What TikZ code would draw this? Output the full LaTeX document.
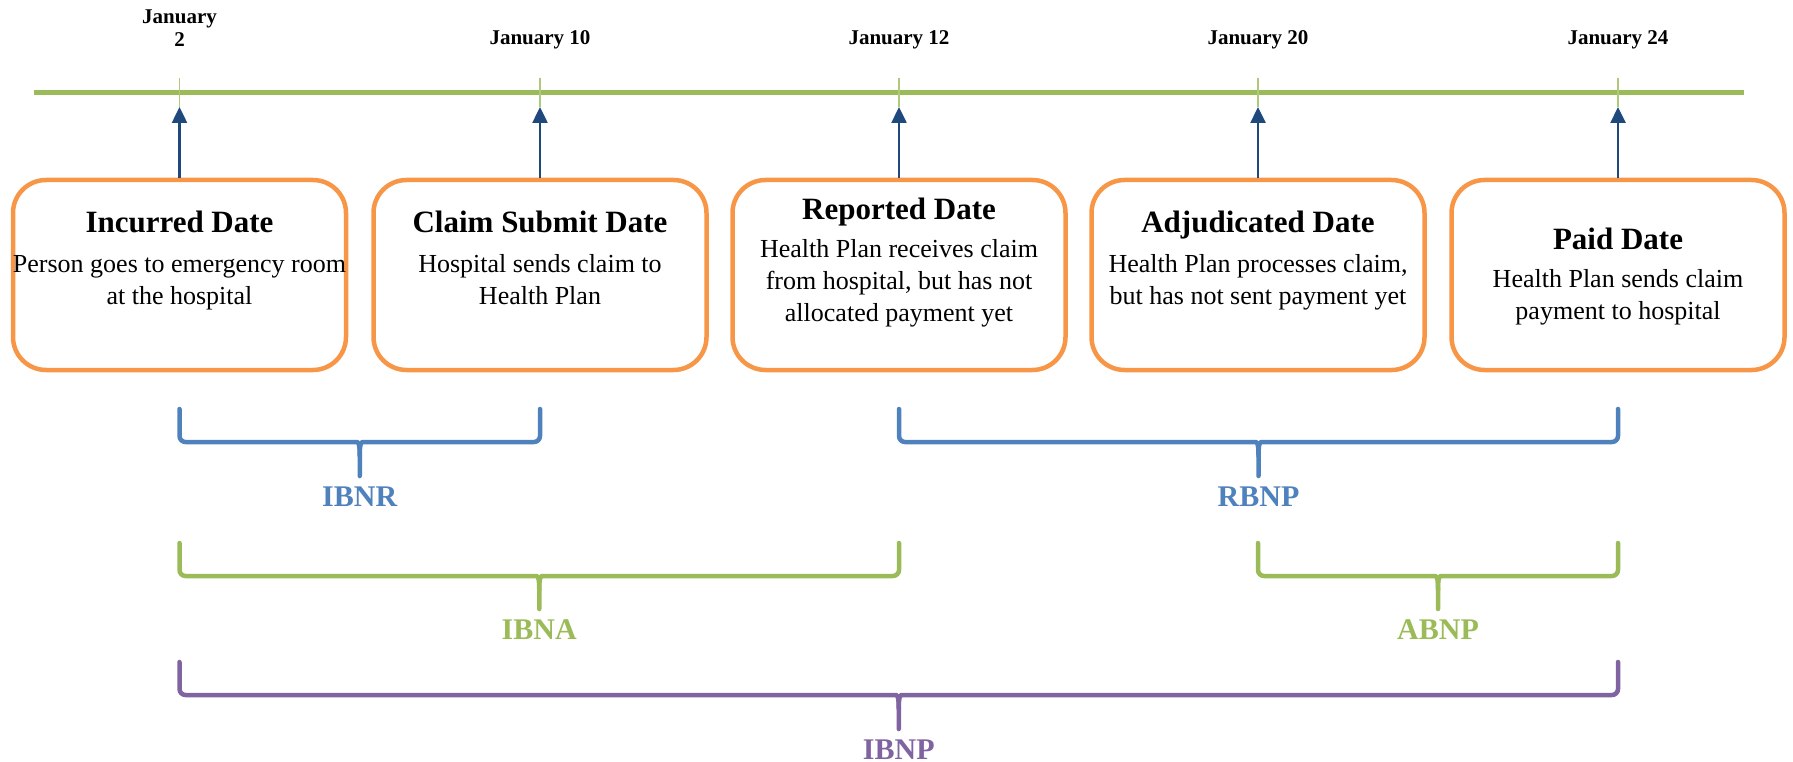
\documentclass[tikz,border=0pt]{standalone}
\usepackage{fontspec}
\setmainfont{Liberation Serif}
\usetikzlibrary{arrows.meta,positioning}
\definecolor{tlgreen}{HTML}{9BBB59}
\definecolor{boxorange}{HTML}{F79646}
\definecolor{ibblue}{HTML}{4F81BD}
\definecolor{arrowblue}{HTML}{1F497D}
\definecolor{ibpurple}{HTML}{8064A2}
\tikzstyle{datebox}=[rectangle,
                     rounded corners=33pt,
                     line width=4.5pt,
                     draw=boxorange,
                     minimum width=333pt,
                     minimum height=190pt]
\tikzstyle{boxtitle}=[font=\fontsize{31}{36}\selectfont\bfseries,
                      inner sep=0pt, anchor=base]
\tikzstyle{boxtext}=[font=\fontsize{26}{32}\selectfont,
                     align=center, inner sep=0pt, anchor=base]
\tikzstyle{datelabel}=[font=\fontsize{21}{23}\selectfont\bfseries,
                       align=center, inner sep=0pt]
\tikzstyle{uparrow}=[draw=arrowblue, line width=2.5pt,
                     -{Triangle[width=15pt,length=16pt]}]
\tikzstyle{tick}=[draw=tlgreen!80, line width=1.5pt]
\tikzstyle{timeline}=[draw=tlgreen, line width=5pt]
\tikzstyle{bracelabel}=[font=\fontsize{30}{36}\selectfont\bfseries,
                        inner sep=0pt, anchor=base]
% brace: colour, left x, right x, top y, bar y, tip y, label name, label
\newcommand{\spanbrace}[8]{%
  \pgfmathsetmacro{\bmid}{(#2+#3)/2}
  \draw[draw=#1, line width=4.5pt, line cap=round, line join=round]
    (#2,#4) [rounded corners=6pt] -- (#2,#5) -- (\bmid-9,#5) [sharp corners]
    .. controls (\bmid-1,#5) and (\bmid,#5+3) .. (\bmid,#5+14) -- (\bmid,#6);
  \draw[draw=#1, line width=4.5pt, line cap=round, line join=round]
    (#3,#4) [rounded corners=6pt] -- (#3,#5) -- (\bmid+9,#5) [sharp corners]
    .. controls (\bmid+1,#5) and (\bmid,#5+3) .. (\bmid,#5+14);
  \node[bracelabel, text=#1] (#7) at (\bmid,#6+30) {#8};
}

\begin{document}
\begin{tikzpicture}[x=1pt,y=-1pt]
      \useasboundingbox (0,0) rectangle (1793,762);

      % time line with its ticks
      \draw[timeline] (34,92.5) -- (1744,92.5);
      \foreach \n/\x in {1/179.5,2/540,3/899,4/1258,5/1618} {
        \coordinate (tick\n) at (\x,107);
        \draw[tick] (\x,78) -- (tick\n);
      }

      % dates above the line
      \node[datelabel] (d1) at (179.5,28) {January\\2};
      \node[datelabel] (d2) at (540,40) {January 10};
      \node[datelabel] (d3) at (899,40) {January 12};
      \node[datelabel] (d4) at (1258,40) {January 20};
      \node[datelabel] (d5) at (1618,40) {January 24};

      % the five dates of a claim (text base = last line)
      \node[datebox] (inc) at (179.5,275) {};
      \node[boxtitle] (inct) at (179.5,233) {Incurred Date};
      \node[boxtext] (incx) at (179.5,304) {Person goes to emergency room\\at the hospital};

      \node[datebox] (sub) at (540,275) {};
      \node[boxtitle] (subt) at (540,233) {Claim Submit Date};
      \node[boxtext] (subx) at (540,304) {Hospital sends claim to\\Health Plan};

      \node[datebox] (rep) at (899,275) {};
      \node[boxtitle] (rept) at (899,219) {Reported Date};
      \node[boxtext] (repx) at (899,321) {Health Plan receives claim\\from hospital, but has not\\allocated payment yet};

      \node[datebox] (adj) at (1258,275) {};
      \node[boxtitle] (adjt) at (1258,233) {Adjudicated Date};
      \node[boxtext] (adjx) at (1258,304) {Health Plan processes claim,\\but has not sent payment yet};

      \node[datebox] (paid) at (1618,275) {};
      \node[boxtitle] (paidt) at (1618,249) {Paid Date};
      \node[boxtext] (paidx) at (1618,319) {Health Plan sends claim\\payment to hospital};

      \draw[uparrow] (inc.north) -- (tick1);
      \draw[uparrow] (sub.north) -- (tick2);
      \draw[uparrow] (rep.north) -- (tick3);
      \draw[uparrow] (adj.north) -- (tick4);
      \draw[uparrow] (paid.north) -- (tick5);

      % spans between the dates
      \spanbrace{ibblue}{179.5}{540}{409}{442}{476}{ibnr}{IBNR}
      \spanbrace{ibblue}{899}{1618}{409}{442}{476}{rbnp}{RBNP}
      \spanbrace{tlgreen}{179.5}{899}{543}{576}{609}{ibna}{IBNA}
      \spanbrace{tlgreen}{1258}{1618}{543}{576}{609}{abnp}{ABNP}
      \spanbrace{ibpurple}{179.5}{1618}{662}{695}{729}{ibnp}{IBNP}
\end{tikzpicture}
\end{document}
